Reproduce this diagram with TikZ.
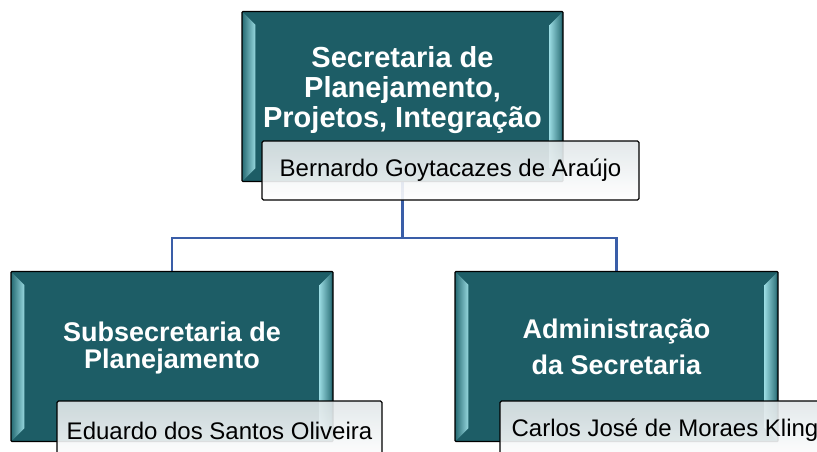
\documentclass[tikz,border=0pt]{standalone}
\usepackage{fontspec}
\setmainfont{Liberation Sans}
\usetikzlibrary{positioning,backgrounds,calc}
\definecolor{tealbox}{RGB}{29,93,102}
\definecolor{tealedge}{RGB}{48,116,124}
\definecolor{bevel}{RGB}{150,215,222}
\definecolor{linkblue}{RGB}{58,94,168}
\definecolor{namegray}{RGB}{224,230,232}
\tikzset{
  unitbox/.style={draw=black,line width=1.4pt,fill=tealbox,minimum height=170pt,rounded corners=1pt},
  unittitle/.style={text=white,font=\bfseries\fontsize{29}{30}\selectfont,align=center},
  namebox/.style={draw=black,line width=1.2pt,top color=namegray,bottom color=white,fill opacity=0.9,text opacity=1,
    minimum height=59pt,rounded corners=1.5pt,font=\fontsize{24}{28}\selectfont},
  link/.style={draw=linkblue,line width=2.2pt},
}

\begin{document}
\begin{tikzpicture}[x=1pt,y=-1pt]
    \useasboundingbox (0,0) rectangle (817,452);
    \clip (0,0) rectangle (817,452);
    % unit boxes
    \node[unitbox,minimum width=321pt] (sec) at (402.5,96.5) {};
    \node[unitbox,minimum width=322pt] (subpl) at (172,356.5) {};
    \node[unitbox,minimum width=323pt] (adm) at (616.5,356.5) {};
    \foreach \b in {sec,subpl,adm}{
        \shade[left color=tealedge,right color=bevel]
            ([shift={(2pt,-2pt)}]\b.north west) -- ([shift={(14pt,-14pt)}]\b.north west)
            -- ([shift={(14pt,14pt)}]\b.south west) -- ([shift={(2pt,2pt)}]\b.south west) -- cycle;
        \shade[left color=bevel,right color=tealedge]
            ([shift={(-2pt,-2pt)}]\b.north east) -- ([shift={(-14pt,-14pt)}]\b.north east)
            -- ([shift={(-14pt,14pt)}]\b.south east) -- ([shift={(-2pt,2pt)}]\b.south east) -- cycle;
    }
    \node[unittitle] (sectitle) at ([yshift=6pt]sec.center) {Secretaria de\\Planejamento,\\Projetos, Integração};
    \node[unittitle,font=\bfseries\fontsize{27}{27}\selectfont] (subpltitle) at ([yshift=8pt]subpl.center)
        {Subsecretaria de\\Planejamento};
    \node[unittitle,font=\bfseries\fontsize{27}{27}\selectfont] (admtitle) at ([yshift=10pt]adm.center)
        {Administração\\[9pt]da Secretaria};
    % chiefs
    \node[namebox,minimum width=377pt] (secchief) at (450.5,170.5) {Bernardo Goytacazes de Araújo};
    \node[namebox,minimum width=325pt] (subplchief) at (219.5,430.5) {Eduardo dos Santos Oliveira};
    \node[namebox,minimum width=330pt] (admchief) at (665,430.5) {Carlos José de Moraes Kling};
    % connectors
    \coordinate (hub) at ([yshift=-56pt]sec.south);
    \begin{scope}[on background layer]
        \draw[link,line width=3pt] (sec.south) -- (hub);
        \draw[link] (hub) -| (subpl.north);
        \draw[link] (hub) -| (adm.north);
    \end{scope}
\end{tikzpicture}
\end{document}
